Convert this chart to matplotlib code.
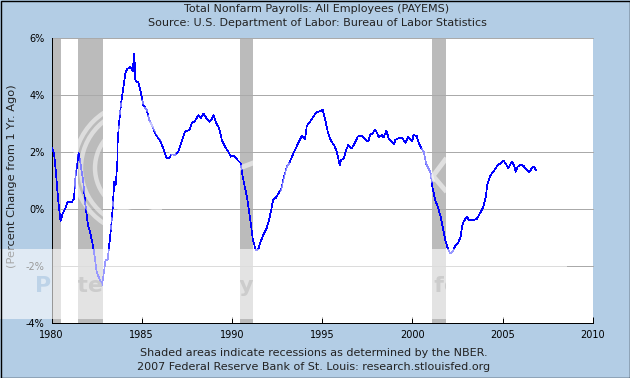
#!/usr/bin/env python
"""Total nonfarm payrolls, percent change from a year ago."""

import matplotlib

matplotlib.use("Agg")
import matplotlib.pyplot as plt
from matplotlib.patches import Circle, Rectangle

W, H = 630, 378
BG = "#b3cde5"
GRID = "#aaaaaa"
STRIPE = "#bbbbbb"

years = [
    1980.0, 1980.14, 1980.25, 1980.33, 1980.4, 1980.5, 1980.62, 1980.77, 1980.9, 1981.12,
    1981.25, 1981.32, 1981.41, 1981.5, 1981.62, 1981.76, 1981.86, 1981.95, 1982.02, 1982.13,
    1982.25, 1982.37, 1982.5, 1982.65, 1982.78, 1982.87, 1983.0, 1983.11, 1983.19, 1983.3,
    1983.39, 1983.48, 1983.56, 1983.65, 1983.67, 1983.78, 1983.87, 1983.98, 1984.09, 1984.2,
    1984.35, 1984.46, 1984.5, 1984.53, 1984.59, 1984.65, 1984.81, 1984.96, 1985.09, 1985.28,
    1985.42, 1985.61, 1985.79, 1986.01, 1986.2, 1986.38, 1986.53, 1986.66, 1986.85, 1987.03,
    1987.22, 1987.4, 1987.64, 1987.77, 1987.96, 1988.14, 1988.27, 1988.42, 1988.56, 1988.75,
    1988.86, 1988.99, 1989.12, 1989.29, 1989.44, 1989.62, 1989.8, 1989.94, 1990.12, 1990.27,
    1990.49, 1990.58, 1990.73, 1990.85, 1990.97, 1991.06, 1991.15, 1991.32, 1991.46, 1991.6,
    1991.74, 1991.93, 1992.06, 1992.18, 1992.28, 1992.44, 1992.57, 1992.72, 1992.85, 1993.04,
    1993.18, 1993.37, 1993.5, 1993.65, 1993.87, 1994.05, 1994.15, 1994.33, 1994.51, 1994.66,
    1994.79, 1995.03, 1995.16, 1995.31, 1995.49, 1995.66, 1995.81, 1995.9, 1995.98, 1996.05,
    1996.21, 1996.32, 1996.45, 1996.64, 1996.82, 1996.97, 1997.21, 1997.38, 1997.56, 1997.65,
    1997.8, 1997.95, 1998.15, 1998.3, 1998.41, 1998.56, 1998.71, 1998.86, 1999.0, 1999.06,
    1999.25, 1999.43, 1999.61, 1999.78, 2000.0, 2000.06, 2000.24, 2000.37, 2000.48, 2000.65,
    2000.76, 2000.89, 2001.02, 2001.11, 2001.26, 2001.44, 2001.59, 2001.72, 2001.83, 2001.94,
    2002.09, 2002.24, 2002.37, 2002.55, 2002.68, 2002.76, 2002.87, 2003.02, 2003.14, 2003.38,
    2003.57, 2003.75, 2003.94, 2004.07, 2004.16, 2004.31, 2004.49, 2004.74, 2004.9, 2005.05,
    2005.2, 2005.32, 2005.51, 2005.62, 2005.73, 2005.84, 2006.01, 2006.16, 2006.31, 2006.47,
    2006.62, 2006.73, 2006.87,
]
pct_change = [
    2.18, 1.97, 1.27, 0.62, 0.15, -0.41, -0.14, 0.04, 0.26, 0.25,
    0.39, 1.09, 1.5, 1.99, 1.56, 0.97, 0.27, -0.2, -0.55, -0.78,
    -1.13, -1.54, -2.19, -2.42, -2.68, -2.36, -1.78, -1.78, -1.31, -0.66,
    0.04, 0.97, 0.86, 1.67, 2.44, 3.25, 3.78, 4.25, 4.78, 4.93,
    4.99, 4.93, 4.85, 5.07, 5.46, 4.51, 4.46, 4.08, 3.66, 3.49,
    3.14, 2.9, 2.61, 2.44, 2.14, 1.79, 1.81, 1.93, 1.91, 2.03,
    2.38, 2.73, 2.79, 3.02, 3.11, 3.31, 3.2, 3.37, 3.23, 3.08,
    3.14, 3.31, 3.04, 2.85, 2.44, 2.2, 2.03, 1.85, 1.89, 1.76,
    1.62, 1.21, 0.74, 0.39, -0.14, -0.55, -1.02, -1.43, -1.4, -1.13,
    -0.9, -0.66, -0.37, -0.02, 0.33, 0.41, 0.56, 0.68, 1.03, 1.5,
    1.62, 1.91, 2.09, 2.29, 2.58, 2.46, 2.93, 3.08, 3.25, 3.39,
    3.43, 3.49, 3.2, 2.73, 2.41, 2.26, 2.03, 1.79, 1.56, 1.73,
    1.79, 2.06, 2.26, 2.14, 2.34, 2.55, 2.6, 2.46, 2.38, 2.61,
    2.67, 2.81, 2.53, 2.61, 2.53, 2.76, 2.46, 2.38, 2.3, 2.44,
    2.5, 2.51, 2.34, 2.55, 2.38, 2.61, 2.58, 2.32, 2.18, 1.99,
    1.62, 1.44, 1.27, 0.8, 0.35, 0.04, -0.31, -0.72, -1.08, -1.33,
    -1.54, -1.49, -1.29, -1.17, -0.96, -0.58, -0.4, -0.26, -0.37, -0.37,
    -0.34, -0.14, 0.09, 0.44, 0.86, 1.18, 1.32, 1.56, 1.62, 1.71,
    1.59, 1.44, 1.67, 1.58, 1.32, 1.5, 1.56, 1.53, 1.41, 1.3,
    1.44, 1.5, 1.37,
]
recession_starts = [1979.9, 1981.47, 1990.45, 2001.09]
recession_ends = [1980.5, 1982.85, 1991.17, 2001.87]
x_ticks = [1980, 1985, 1990, 1995, 2000, 2005, 2010]
y_ticks = [-4, -2, 0, 2, 4, 6]
y_tick_labels = ["-4%", "-2%", "0%", "2%", "4%", "6%"]

title_lines = [
    "Total Nonfarm Payrolls: All Employees (PAYEMS)",
    "Source: U.S. Department of Labor: Bureau of Labor Statistics",
]
foot_lines = [
    "Shaded areas indicate recessions as determined by the NBER.",
    "2007 Federal Reserve Bank of St. Louis: research.stlouisfed.org",
]

plt.rcParams["font.family"] = "DejaVu Sans"
fig = plt.figure(figsize=(W / 100, H / 100), dpi=100, facecolor=BG)
ax = fig.add_axes([51.5 / W, 1 - 323.3 / H, (592.7 - 51.5) / W, (323.3 - 38.5) / H])

for start, end in zip(recession_starts, recession_ends):
    ax.axvspan(start, end, color=STRIPE, lw=0, zorder=1)
for tick in y_ticks[1:]:
    ax.axhline(tick, color=GRID, lw=0.72, zorder=2, clip_on=False)
ax.plot(years, pct_change, color="#0000ff", lw=0.5, antialiased=False, zorder=3)

ax.set_xlim(1980, 2010)
ax.set_ylim(-4, 6)
ax.set_xticks(x_ticks)
ax.set_yticks(y_ticks)
ax.set_yticklabels(y_tick_labels)
ax.tick_params(direction="in", length=4, width=0.72, labelsize=7, pad=5, colors="black")
ax.spines["top"].set_visible(False)
ax.spines["right"].set_visible(False)
ax.spines["left"].set_linewidth(0.72)
ax.spines["bottom"].set_linewidth(0.72)

fig.text(12 / W, 1 - 176 / H, "(Percent Change from 1 Yr. Ago)", rotation=90,
         ha="center", va="center", fontsize=8.2, color="#222222")
for line, y in zip(title_lines, [9, 23]):
    fig.text(317 / W, 1 - y / H, line, ha="center", va="center", fontsize=8, color="#222222")
for line, y in zip(foot_lines, [353, 367]):
    fig.text(313.5 / W, 1 - y / H, line, ha="center", va="center", fontsize=8.05, color="#222222")

# watermark overlay, in pixel coordinates
over = fig.add_axes([0, 0, 1, 1], zorder=10)
over.set_xlim(0, W)
over.set_ylim(H, 0)
over.axis("off")
ring_box = Rectangle((51.5, 38.5), 110, 284.8, transform=over.transData)
for radius in [45, 59, 66]:
    ring = Circle((140, 168), radius, fc="none", ec="white", lw=3.2, alpha=0.5)
    over.add_patch(ring)
    ring.set_clip_path(ring_box)
strokes = [
    ([445, 433, 445], [160, 176, 190]),
    ([240, 253], [168, 163]),
    ([148, 176], [118, 158]),
    ([283, 289], [190, 165]),
    ([424, 432], [150, 180]),
]
for stroke_x, stroke_y in strokes:
    over.plot(stroke_x, stroke_y, color="white", lw=3.5, alpha=0.55)
over.add_patch(Rectangle((0, 249), 567, 70, fc="white", ec="none", alpha=0.6))

mark_regions = [
    ((0, 51.5), "#bdd3e8"),
    ((78, 103), "#cccccc"),
    ((240, 253), "#cccccc"),
    ((432, 446), "#cccccc"),
]
for (x0, x1), color in mark_regions:
    mark = over.text(35, 292, "Protect more of your memories for less!", fontsize=15.9,
                     weight="bold", color=color, ha="left", va="baseline", clip_on=True)
    mark.set_clip_path(Rectangle((x0, 249), x1 - x0, 70, transform=over.transData))

over.add_patch(Rectangle((0.5, 0.5), W - 1, H - 1, fc="none", ec="black", lw=1))

fig.savefig("out.png", dpi=100, facecolor=BG)
